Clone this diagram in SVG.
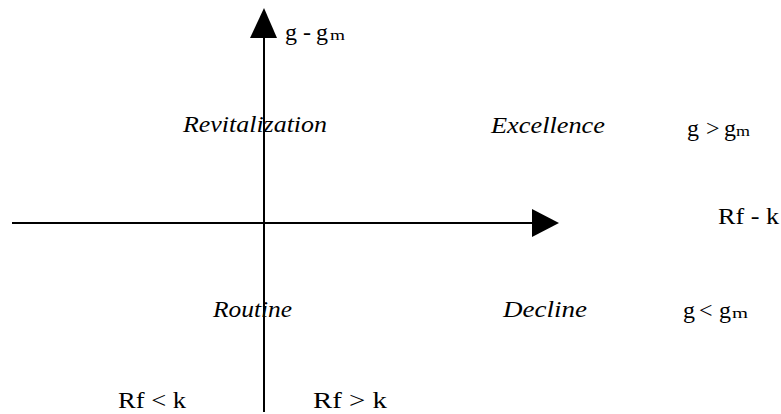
<svg xmlns="http://www.w3.org/2000/svg" width="781" height="414" viewBox="0 0 781 414">
<style>
text{font-family:"Liberation Serif","Times New Roman",serif;font-size:24px;fill:#000}
.it{font-style:italic}
.sub{font-size:15px}
.ax{stroke:#000;stroke-width:2;fill:none}
.hd{fill:#000;stroke:none}
</style>
<rect width="781" height="414" fill="#fff"/>
<g id="connectors">
<line class="ax" x1="264" y1="412" x2="264" y2="34"/>
<polygon class="hd" points="264,8 277,38 250,38"/>
<line class="ax" x1="12" y1="223" x2="534" y2="223"/>
<polygon class="hd" points="559,223 532,209 532,237"/>
</g>
<g id="axis-y-label"><text y="40"><tspan x="285">g</tspan><tspan x="303">-</tspan><tspan x="316">g</tspan><tspan x="330" class="sub" textLength="15" lengthAdjust="spacingAndGlyphs">m</tspan></text></g>
<g id="axis-x-label"><text x="718" y="224" textLength="61" lengthAdjust="spacingAndGlyphs">Rf - k</text></g>
<g id="revitalization"><text class="it" x="183" y="132" textLength="144" lengthAdjust="spacingAndGlyphs">Revitalization</text></g>
<g id="excellence"><text class="it" x="491" y="133" textLength="114" lengthAdjust="spacingAndGlyphs">Excellence</text></g>
<g id="routine"><text class="it" x="213" y="317" textLength="79" lengthAdjust="spacingAndGlyphs">Routine</text></g>
<g id="decline"><text class="it" x="503" y="317" textLength="84" lengthAdjust="spacingAndGlyphs">Decline</text></g>
<g id="g-greater"><text y="136"><tspan x="687">g</tspan><tspan x="706">&gt;</tspan><tspan x="724">g</tspan><tspan x="736" class="sub" textLength="14" lengthAdjust="spacingAndGlyphs">m</tspan></text></g>
<g id="g-less"><text y="318"><tspan x="683">g</tspan><tspan x="699">&lt;</tspan><tspan x="719">g</tspan><tspan x="732" class="sub" textLength="16" lengthAdjust="spacingAndGlyphs">m</tspan></text></g>
<g id="rf-less"><text x="118" y="408" textLength="68" lengthAdjust="spacingAndGlyphs">Rf &lt; k</text></g>
<g id="rf-greater"><text x="313" y="408" textLength="74" lengthAdjust="spacingAndGlyphs">Rf &gt; k</text></g>
</svg>
